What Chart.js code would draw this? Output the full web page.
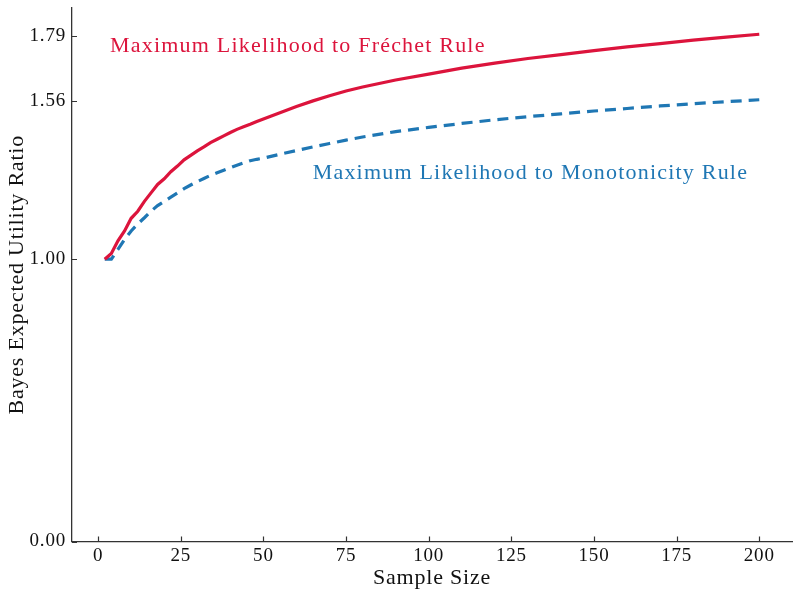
<!DOCTYPE html>
<html>
<head>
<meta charset="utf-8">
<script src="https://cdn.jsdelivr.net/npm/chart.js@4.4.1/dist/chart.umd.min.js"></script>
<style>
  html, body { margin: 0; padding: 0; background: #fff; }
  #wrap { width: 798px; height: 596px; position: relative; }
</style>
</head>
<body>
<div id="wrap"><canvas id="ratioChart"></canvas></div>
<script>
const sampleSizes = [2, 4, 6, 8, 10, 12, 14, 16, 18, 20, 22, 24, 26, 28, 30, 32, 34, 36, 38, 40, 42, 44, 46, 48, 50,
    55, 60, 65, 70, 75, 80, 90, 100, 110, 120, 130, 140, 150, 160, 170, 180, 190, 200];

const frechetRatio = [1.00, 1.02, 1.065, 1.10, 1.145, 1.17, 1.205, 1.235, 1.265, 1.285, 1.31, 1.33, 1.352, 1.368, 1.384,
    1.398, 1.413, 1.425, 1.437, 1.449, 1.46, 1.469, 1.478, 1.488, 1.497,
    1.519, 1.541, 1.561, 1.579, 1.596, 1.610, 1.635, 1.656, 1.677, 1.695, 1.711, 1.725, 1.739, 1.752, 1.764, 1.776, 1.787, 1.797];

const monotonicityRatio = [1.00, 1.00, 1.035, 1.07, 1.10, 1.125, 1.147, 1.17, 1.19, 1.205, 1.22, 1.235, 1.25, 1.263, 1.275,
    1.286, 1.297, 1.306, 1.315, 1.324, 1.333, 1.341, 1.349, 1.354, 1.358,
    1.372, 1.385, 1.398, 1.410, 1.422, 1.433, 1.452, 1.467, 1.481, 1.494, 1.505, 1.515, 1.525, 1.534, 1.543, 1.551, 1.558, 1.565];

const xTickValues = [0, 25, 50, 75, 100, 125, 150, 175, 200];
const yTickValues = [0.00, 1.00, 1.56, 1.79];

const redColor = "#dc143c";
const blueColor = "#1f77b4";
const serif = "'Liberation Serif', 'Times New Roman', serif";

// line labels placed in data coordinates
const lineLabels = [
    { text: "Maximum Likelihood to Fréchet Rule", x: 3.6, y: 1.755, color: redColor },
    { text: "Maximum Likelihood to Monotonicity Rule", x: 64.9, y: 1.306, color: blueColor }
];

// Times is a bit narrower than Computer Modern, so widen the text a little
const spacingPlugin = {
    id: "spacing",
    beforeLayout(chart) { chart.ctx.letterSpacing = "0.8px"; },
    beforeDraw(chart) { chart.ctx.letterSpacing = "0.8px"; }
};

const decorPlugin = {
    id: "decor",
    afterDraw(chart) {
        const ctx = chart.ctx;
        const xs = chart.scales.x;
        const ys = chart.scales.y;
        const area = chart.chartArea;

        // inward tick marks
        ctx.save();
        ctx.strokeStyle = "#333";
        ctx.lineWidth = 1.2;
        ctx.beginPath();
        xTickValues.forEach(v => {
            const px = Math.round(xs.getPixelForValue(v)) + 0.5;
            ctx.moveTo(px, area.bottom);
            ctx.lineTo(px, area.bottom - 5);
        });
        yTickValues.forEach(v => {
            const py = Math.round(ys.getPixelForValue(v)) + 0.5;
            ctx.moveTo(area.left, py);
            ctx.lineTo(area.left + 5, py);
        });
        ctx.stroke();

        // line labels
        ctx.font = "22px " + serif;
        ctx.letterSpacing = "1.2px";
        ctx.textAlign = "left";
        ctx.textBaseline = "middle";
        lineLabels.forEach(lbl => {
            ctx.fillStyle = lbl.color;
            ctx.fillText(lbl.text, xs.getPixelForValue(lbl.x), ys.getPixelForValue(lbl.y));
        });
        ctx.restore();
    }
};

const ctx = document.getElementById("ratioChart").getContext("2d");

new Chart(ctx, {
    type: "line",
    data: {
        labels: sampleSizes,
        datasets: [
            {
                label: "Maximum Likelihood to Fréchet Rule",
                data: sampleSizes.map((s, i) => ({ x: s, y: frechetRatio[i] })),
                borderColor: redColor,
                borderWidth: 3.2,
                pointRadius: 0,
                tension: 0
            },
            {
                label: "Maximum Likelihood to Monotonicity Rule",
                data: sampleSizes.map((s, i) => ({ x: s, y: monotonicityRatio[i] })),
                borderColor: blueColor,
                borderWidth: 3.2,
                borderDash: [11, 7],
                pointRadius: 0,
                tension: 0
            }
        ]
    },
    options: {
        responsive: true,
        maintainAspectRatio: false,
        animation: false,
        layout: { padding: { top: 8, right: 6, left: 0, bottom: 0 } },
        plugins: {
            legend: { display: false },
            tooltip: { enabled: false }
        },
        scales: {
            x: {
                type: "linear",
                min: -7.9,
                max: 209.9,
                afterBuildTicks: scale => { scale.ticks = xTickValues.map(v => ({ value: v })); },
                afterFit: scale => {
                    scale.height = 54.5;
                    scale.paddingLeft = 0;
                    scale.paddingRight = 0;
                },
                grid: { display: true, drawOnChartArea: false, drawTicks: false },
                border: { display: true, color: "#333", width: 1.3 },
                ticks: {
                    color: "#111",
                    padding: 3,
                    maxRotation: 0,
                    font: { family: serif, size: 19 },
                    callback: value => String(value)
                },
                title: {
                    display: true,
                    text: "Sample Size",
                    color: "#111",
                    font: { family: serif, size: 22 },
                    padding: { top: 0, bottom: 5 }
                }
            },
            y: {
                type: "linear",
                min: 0,
                max: 1.89,
                afterBuildTicks: scale => { scale.ticks = yTickValues.map(v => ({ value: v })); },
                afterFit: scale => {
                    scale.width = 72;
                    scale.paddingTop = 0;
                    scale.paddingBottom = 0;
                },
                grid: { display: true, drawOnChartArea: false, drawTicks: false },
                border: { display: true, color: "#333", width: 1.3 },
                ticks: {
                    color: "#111",
                    padding: 6,
                    font: { family: serif, size: 19 },
                    callback: value => Number(value).toFixed(2)
                },
                title: {
                    display: true,
                    text: "Bayes Expected Utility Ratio",
                    color: "#111",
                    font: { family: serif, size: 22 },
                    padding: { top: 4, bottom: 0 }
                }
            }
        }
    },
    plugins: [spacingPlugin, decorPlugin]
});
</script>
</body>
</html>
